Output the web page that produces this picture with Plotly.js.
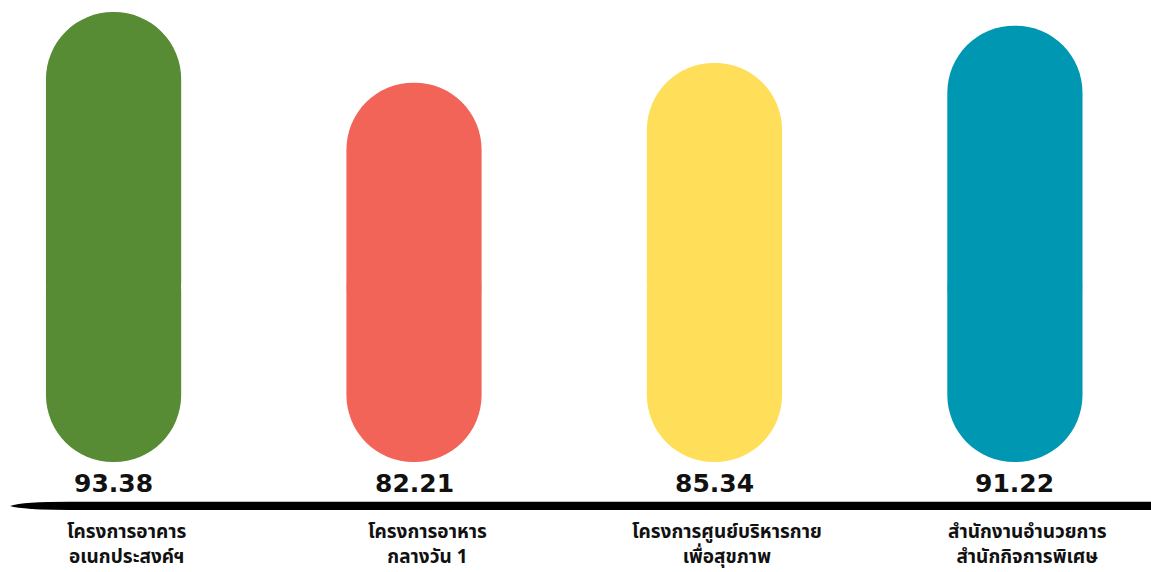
<!DOCTYPE html>
<html>
<head>
<meta charset="utf-8">
<script src="https://cdn.plot.ly/plotly-3.0.1.min.js"></script>
<style>html,body{margin:0;padding:0;background:#fff;}#chart{width:1151px;height:572px;}</style>
</head>
<body>
<div id="chart"></div>
<script>
const categories = ['อาคารอเนกประสงค์', 'อาหารกลางวัน', 'ศูนย์บริหารกาย', 'สำนักงานอำนวยการ'];
const labels = ['โครงการอาคาร<br>อเนกประสงค์ฯ', 'โครงการอาหาร<br>กลางวัน 1', 'โครงการศูนย์บริหารกาย<br>เพื่อสุขภาพ', 'สำนักงานอำนวยการ<br>สำนักกิจการพิเศษ'];
const values = [93.38, 82.21, 85.34, 91.22];
const valueText = ['93.38', '82.21', '85.34', '91.22'];
const colors = ['#578B34', '#F26457', '#FFDE59', '#0097B2'];

const barBase = 22.3;   // visual base of the pills
const joinLow = 40, joinHigh = 60;
const barWidth = 0.45;

const topTrace = {
  type: 'bar', x: categories,
  y: values.map(v => v - joinLow), base: joinLow,
  width: barWidth,
  marker: {color: colors, cornerradius: '50%', line: {width: 0}},
  hoverinfo: 'skip'
};
const bottomTrace = {
  type: 'bar', x: categories,
  y: values.map(() => barBase - joinHigh), base: joinHigh,
  width: barWidth,
  marker: {color: colors, cornerradius: '50%', line: {width: 0}},
  hoverinfo: 'skip'
};

const thaiFont = '"Noto Sans Thai", "Noto Sans Thai Looped", "Noto Sans", "DejaVu Sans", sans-serif';

const annotations = [];
categories.forEach((c, i) => {
  annotations.push({
    x: c, xref: 'x', y: 0.154, yref: 'paper', yanchor: 'middle',
    text: valueText[i], showarrow: false,
    font: {family: '"DejaVu Sans", "Liberation Sans", sans-serif', size: 25, color: '#111', weight: 700}
  });
  annotations.push({
    x: c, xref: 'x', y: 0.048, yref: 'paper', yanchor: 'middle', xshift: 13,
    text: '<b>' + labels[i] + '</b>', showarrow: false,
    font: {family: thaiFont, size: 19, color: '#111'}
  });
});

const layout = {
  width: 1151, height: 572,
  margin: {l: 0, r: 0, t: 0, b: 0},
  paper_bgcolor: '#ffffff', plot_bgcolor: '#ffffff',
  barmode: 'overlay', showlegend: false,
  xaxis: {type: 'category', range: [-0.378, 3.453], visible: false, fixedrange: true},
  yaxis: {range: [4.93, 95.28], visible: false, fixedrange: true},
  annotations: annotations,
  shapes: [{
    type: 'path', xref: 'paper', yref: 'paper',
    path: 'M 0.0087 0.1154 Q 0.02 0.1226 0.06 0.1226 L 1 0.1226 L 1 0.1086 L 0.06 0.1086 Q 0.02 0.1086 0.0087 0.1154 Z',
    fillcolor: '#000', line: {width: 0}
  }]
};

Plotly.newPlot('chart', [topTrace, bottomTrace], layout, {staticPlot: true, displayModeBar: false});
</script>
</body>
</html>
